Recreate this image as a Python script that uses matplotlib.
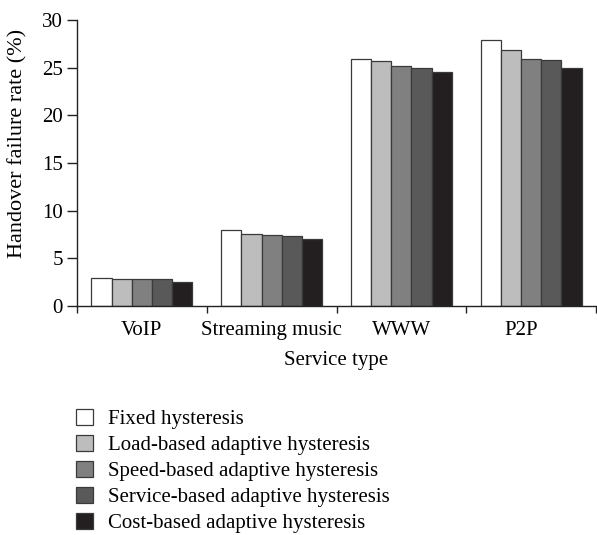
import matplotlib
matplotlib.use("Agg")
import matplotlib.pyplot as plt
from matplotlib.patches import Patch
import matplotlib.transforms as mtransforms
import numpy as np

categories = ["VoIP", "Streaming music", "WWW", "P2P"]
series_names = [
    "Fixed hysteresis",
    "Load-based adaptive hysteresis",
    "Speed-based adaptive hysteresis",
    "Service-based adaptive hysteresis",
    "Cost-based adaptive hysteresis",
]
fixed = [2.95, 7.95, 25.9, 27.9]
load_based = [2.8, 7.55, 25.7, 26.85]
speed_based = [2.8, 7.45, 25.15, 25.95]
service_based = [2.8, 7.35, 24.95, 25.85]
cost_based = [2.55, 7.08, 24.5, 25.0]
series = [fixed, load_based, speed_based, service_based, cost_based]
colors = ["#ffffff", "#bdbdbd", "#808080", "#595959", "#231f20"]
yticks = [0, 5, 10, 15, 20, 25, 30]

plt.rcParams["font.family"] = ["Liberation Serif", "DejaVu Serif"]
FS = 15

fig = plt.figure(figsize=(5.97, 5.35), dpi=100)
W, H = 597, 535
ax = fig.add_axes([77 / W, 1 - 306 / H, (596 - 77) / W, (306 - 20) / H])

x = np.arange(len(categories))
bw = 0.156
n = len(series)
for i, (vals, c) in enumerate(zip(series, colors)):
    ax.bar(x + (i - (n - 1) / 2) * bw, vals, width=bw, color=c,
           edgecolor="#3a3a3a", linewidth=0.9, label=series_names[i])

ax.set_xlim(-0.5, len(categories) - 0.5)
ax.set_ylim(0, 30)
ax.set_yticks(yticks)
ax.set_yticklabels([str(t) for t in yticks], fontsize=FS)
ax.set_xticks(x)
ax.set_xticklabels(categories, fontsize=FS)
ax.tick_params(axis="x", which="major", length=0, pad=11)
ax.set_xticks(np.arange(len(categories) + 1) - 0.5, minor=True)
ax.tick_params(axis="x", which="minor", length=5, width=1, color="#222222", direction="out")
ax.tick_params(axis="y", length=7, width=1, color="#222222", pad=3, direction="out")
for s in ["top", "right"]:
    ax.spines[s].set_visible(False)
for s in ["left", "bottom"]:
    ax.spines[s].set_linewidth(1.0)
    ax.spines[s].set_color("#222222")

# shift last category label slightly left as in reference
lbl = ax.get_xticklabels()[-1]
lbl.set_transform(lbl.get_transform() + mtransforms.ScaledTranslation(-10 / 100, 0, fig.dpi_scale_trans))

fig.text(336 / W, 1 - 361 / H, "Service type", ha="center", va="center", fontsize=FS)
fig.text(18 / W, 1 - 143.5 / H, "Handover failure rate (%)", ha="center", va="center",
         rotation=90, fontsize=16)

handles = [Patch(facecolor=c, edgecolor="#3a3a3a", linewidth=0.9) for c in colors]
leg = fig.legend(handles, series_names, loc="upper left",
                 bbox_to_anchor=(76 / W, 1 - 409 / H), frameon=False, fontsize=FS,
                 handlelength=0.8, handleheight=0.8, handletextpad=0.75,
                 labelspacing=0.28, borderaxespad=0, borderpad=0)

fig.savefig("out.png", dpi=100)
